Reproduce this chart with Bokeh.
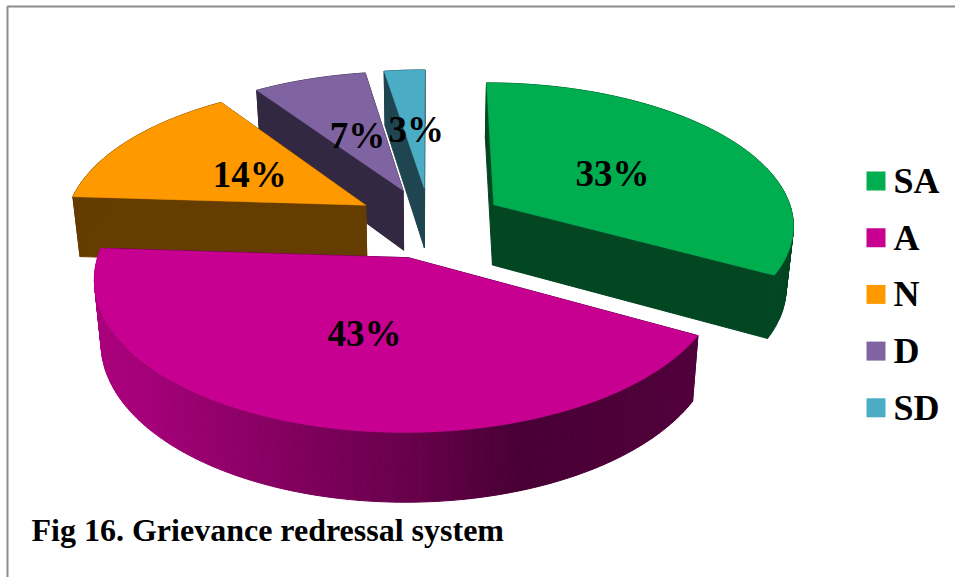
import numpy as np
from bokeh.plotting import figure
from bokeh.core.properties import value
from bokeh.embed import file_html
from bokeh.resources import INLINE

# ---- data ----
categories = ["SA", "A", "N", "D", "SD"]
shares = [33.0, 43.0, 14.49, 7.0, 2.51]
title_text = "Fig 16. Grievance redressal system"

# ---- style ----
top_colors = ["#00AD4F", "#C80092", "#FF9900", "#8064A2", "#4BACC6"]
side_colors = ["#024622", None, "#663D00", "#322841", "#1E4550"]
draw_order = [4, 3, 0, 2, 1]

# ---- projection of the tilted pie ----
CX, CY, RX, RY, K = 429.5, 222.0, 301.0, 142.0, 0.13
EXPLODE, DEPTH, LABEL_R = 0.25, 61.0, 0.48
FONT = value("Liberation Serif")

W, H = 955, 577
p = figure(width=W, height=H, x_range=(0, W), y_range=(H, 0),
           toolbar_location=None, output_backend="svg", min_border=0,
           outline_line_color=None, background_fill_color="white")
p.axis.visible = False
p.grid.visible = False


def project(X, Y):
    X, Y = np.asarray(X, float), np.asarray(Y, float)
    s = 1.0 / (1.0 + K * Y)
    return CX + RX * X * s, CY - RY * Y * s, s


def drop(x, y, s):
    return CX + (x - CX) * 0.98, y + DEPTH * (1 + 0.75 * (s - 1))


def hex_mul(col, f):
    r, g, b = int(col[1:3], 16), int(col[3:5], 16), int(col[5:7], 16)
    return "#%02x%02x%02x" % (int(r * f), int(g * f), int(b * f))


edges = np.radians(np.concatenate([[0], np.cumsum(shares)]) * 3.6)
label_x, label_y, label_t = [], [], []
for i in draw_order:
    a0, a1 = edges[i], edges[i + 1]
    mid = (a0 + a1) / 2
    ax, ay = EXPLODE * np.sin(mid), EXPLODE * np.cos(mid)
    th = np.linspace(a0, a1, max(4, int(np.degrees(a1 - a0))))
    wx = np.concatenate([[ax], ax + np.sin(th)])
    wy = np.concatenate([[ay], ay + np.cos(th)])
    x, y, s = project(wx, wy)
    bx, by = drop(x, y, s)
    base = top_colors[i]
    flat = side_colors[i]
    xs, ys, cs = [], [], []
    # radial walls
    for j in (1, len(x) - 1):
        xs.append([x[0], x[j], bx[j], bx[0]])
        ys.append([y[0], y[j], by[j], by[0]])
        cs.append(flat or hex_mul(base, 0.36))
    # outer wall, strip by strip (with a horizontal light falloff)
    for j in range(1, len(x) - 1):
        xs.append([x[j], x[j + 1], bx[j + 1], bx[j]])
        ys.append([y[j], y[j + 1], by[j + 1], by[j]])
        if flat:
            cs.append(flat)
        else:
            f = np.interp((x[j] + x[j + 1]) / 2,
                          [100, 150, 300, 400, 520, 700],
                          [0.85, 0.82, 0.64, 0.53, 0.36, 0.41])
            cs.append(hex_mul(base, f))
    p.patches(xs, ys, fill_color=cs, line_color=cs, line_width=1)
    p.patch(x, y, fill_color=base, line_color=base, line_width=0.5)
    lx, ly, _ = project([ax + LABEL_R * np.sin(mid)], [ay + LABEL_R * np.cos(mid)])
    label_x.append(lx[0] + 2); label_y.append(ly[0] + 1.5)
    label_t.append(f"{round(shares[i])}%")

p.text(x=label_x, y=label_y, text=label_t, text_font=FONT, text_font_style="bold",
       text_font_size="37px", text_color="black", text_align="center",
       text_baseline="middle")

# legend
leg_y = [180.5 + 56.7 * k for k in range(len(categories))]
p.rect(x=[875.5] * len(categories), y=leg_y, width=19, height=19,
       fill_color=top_colors, line_color=None)
p.text(x=[893] * len(categories), y=leg_y, text=categories, text_font=FONT,
       text_font_style="bold", text_font_size="36px", text_color="black",
       text_align="left", text_baseline="middle")

# caption
p.text(x=[31], y=[529], text=[title_text], text_font=FONT, text_font_style="bold",
       text_font_size="32px", text_color="black", text_align="left",
       text_baseline="middle")

# frame of the picture (left and top rules)
p.line(x=[7, 7, W], y=[H, 6, 6], line_color="#8c8c8c", line_width=2)

open("out.html", "w").write(file_html(p, INLINE))
